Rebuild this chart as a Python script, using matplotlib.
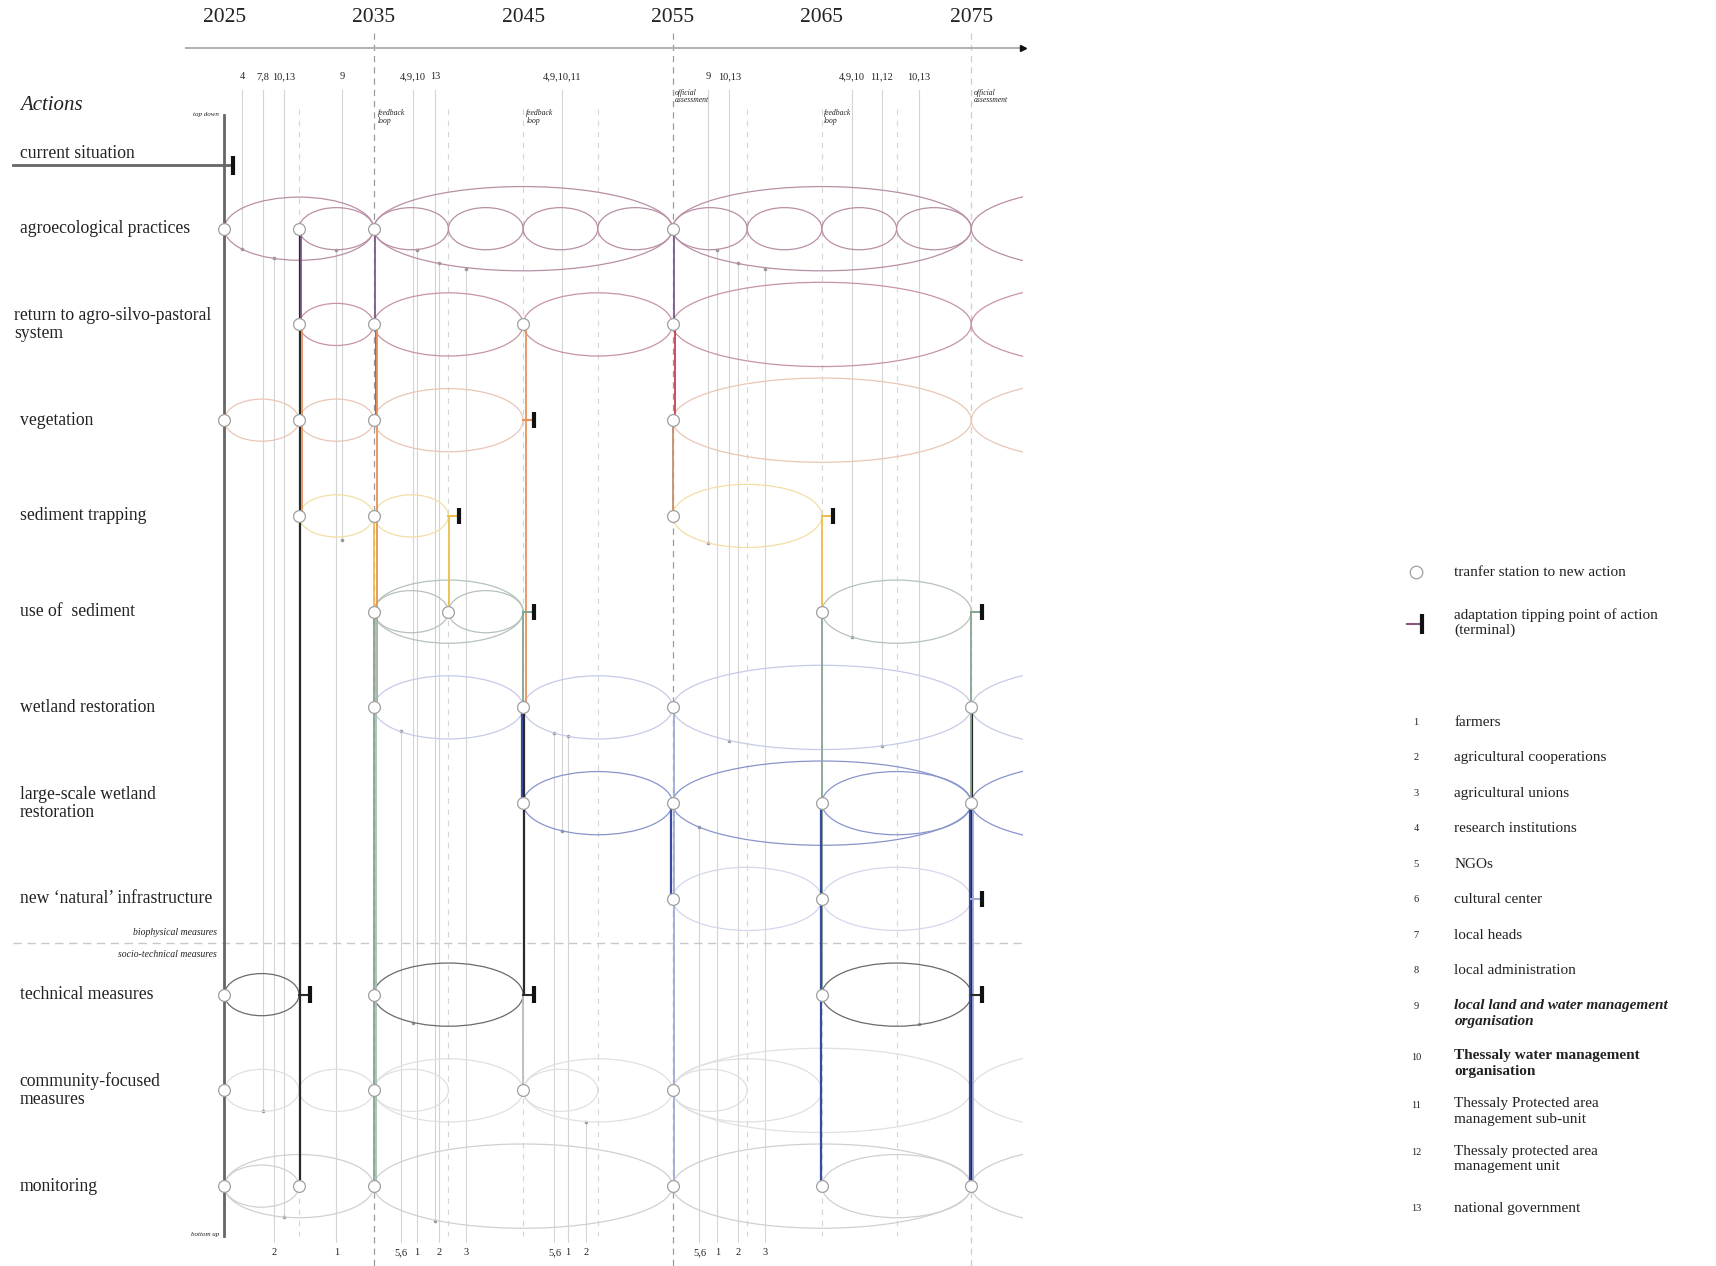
import matplotlib
matplotlib.use('Agg')
import matplotlib.pyplot as plt
from matplotlib.patches import Ellipse, Rectangle

plt.rcParams['font.family'] = ['Liberation Serif', 'DejaVu Serif']

# ---------------- data ----------------
years_axis = [2025, 2035, 2045, 2055, 2065, 2075]

actions = ["current situation", "agroecological practices",
           "return to agro-silvo-pastoral\nsystem", "vegetation",
           "sediment trapping", "use of  sediment", "wetland restoration",
           "large-scale wetland\nrestoration", "new \u2018natural\u2019 infrastructure",
           "technical measures", "community-focused\nmeasures", "monitoring"]

agro_spans = [(2025, 2035), (2030, 2035), (2035, 2040), (2040, 2045), (2045, 2050),
              (2050, 2055), (2035, 2055), (2055, 2060), (2060, 2065), (2065, 2070),
              (2070, 2075), (2055, 2075), (2075, 2095)]
return_spans = [(2030, 2035), (2035, 2045), (2045, 2055), (2055, 2075), (2075, 2095)]
veg_spans = [(2025, 2030), (2030, 2035), (2035, 2045), (2055, 2075), (2075, 2095)]
sedtrap_spans = [(2030, 2035), (2035, 2040), (2055, 2065)]
usesed_spans = [(2035, 2040), (2040, 2045), (2035, 2045), (2065, 2075)]
wetland_spans = [(2035, 2045), (2045, 2055), (2055, 2075), (2075, 2095)]
large_spans = [(2045, 2055), (2055, 2075), (2065, 2075), (2075, 2095)]
natinf_spans = [(2055, 2065), (2065, 2075)]
tech_spans = [(2025, 2030), (2035, 2045), (2065, 2075)]
comm_spans = [(2025, 2030), (2030, 2035), (2035, 2040), (2035, 2045), (2045, 2050),
              (2045, 2055), (2055, 2060), (2055, 2065), (2055, 2075), (2075, 2095)]
monit_spans = [(2025, 2030), (2025, 2035), (2035, 2055), (2055, 2075), (2065, 2075),
               (2075, 2095)]

agro_stations = [2025, 2030, 2035, 2055]
return_stations = [2030, 2035, 2045, 2055]
veg_stations = [2025, 2030, 2035, 2055]
sedtrap_stations = [2030, 2035, 2055]
usesed_stations = [2035, 2040, 2065]
wetland_stations = [2035, 2045, 2055, 2075]
large_stations = [2045, 2055, 2065, 2075]
natinf_stations = [2055, 2065]
tech_stations = [2025, 2035, 2065]
comm_stations = [2025, 2035, 2045, 2055]
monit_stations = [2025, 2030, 2035, 2055, 2065, 2075]

# tipping points: (year, action index, pathway)
tipping_points = [(2045, 3, "veg"), (2040, 4, "sed"), (2065, 4, "sed"),
                  (2045, 5, "use"), (2075, 5, "use"), (2075, 8, "wet"),
                  (2030, 9, "black"), (2045, 9, "black"), (2075, 9, "black")]

# transfers between actions: (year, from action, to action, pathway)
transfers = [
    (2030, 1, 11, "black"), (2030, 1, 2, "agro"), (2030, 2, 4, "veg"),
    (2035, 1, 2, "agro"), (2035, 2, 3, "return"), (2035, 2, 6, "veg"),
    (2035, 4, 5, "sed"), (2035, 5, 11, "use"), (2035, 5, 11, "use2"),
    (2040, 4, 5, "sed"),
    (2045, 2, 6, "veg"), (2045, 5, 7, "use"), (2045, 6, 7, "large"),
    (2045, 6, 9, "black"), (2045, 9, 10, "grey"),
    (2055, 1, 2, "agro"), (2055, 2, 3, "return"), (2055, 3, 4, "brown"),
    (2055, 6, 7, "wet"), (2055, 7, 8, "large"), (2055, 7, 11, "wet"),
    (2065, 4, 5, "sed"), (2065, 5, 9, "use"), (2065, 7, 11, "large"),
    (2075, 5, 6, "use"), (2075, 6, 7, "black"), (2075, 6, 7, "use"),
    (2075, 7, 11, "large"), (2075, 7, 11, "black"), (2075, 7, 11, "wet"),
]

# stakeholder involvement
top_labels = ["4", "7,8", "10,13", "9", "4,9,10", "13", "4,9,10,11", "9", "10,13",
              "4,9,10", "11,12", "10,13"]
top_years = [2026.2, 2027.6, 2029.0, 2032.9, 2037.6, 2039.1, 2047.6, 2057.4, 2058.8,
             2067.0, 2069.0, 2071.5]
top_reach = [1.21, 10.22, 11.32, 4.25, 9.3, 11.36, 7.29, 4.28, 6.35, 5.26, 6.4, 9.31]
bottom_labels = ["2", "1", "5,6", "1", "2", "3", "5,6", "1", "2", "5,6", "1", "2", "3"]
bottom_years = [2028.3, 2032.5, 2036.8, 2037.9, 2039.4, 2041.2, 2047.1, 2048.0, 2049.2,
                2056.8, 2058.0, 2059.4, 2061.2]
bottom_reach = [1.31, 1.22, 6.25, 1.22, 1.36, 1.42, 6.27, 6.3, 10.33, 7.25, 1.22, 1.36, 1.42]

stakeholders = ["farmers", "agricultural cooperations", "agricultural unions",
                "research institutions", "NGOs", "cultural center", "local heads",
                "local administration", "local land and water management\norganisation",
                "Thessaly water management\norganisation",
                "Thessaly Protected area\nmanagement sub-unit",
                "Thessaly protected area\nmanagement unit", "national government"]

# ---------------- layout helpers (reference pixel -> data) ----------------
def X(xs):
    return 2025 + (xs - 205) / 13.65

def Y(ys):
    return 1 + (ys - 209) / 87.5

row_y = [Y(151)] + list(range(1, 12))

ell_col = ["#777777", "#b98fa6", "#c794a3", "#e9c6b5", "#f2dfa6", "#b5c2bb", "#c6cbe6",
           "#8894cc", "#d3d7ec", "#6a6a6a", "#e0e0e0", "#d0d0d0"]
path_col = {"agro": "#7a5a8c", "return": "#c9404c", "veg": "#e8925a", "brown": "#c8906a",
            "sed": "#eebf4a", "use": "#86a48e", "use2": "#aabdb2", "wet": "#9fabdb",
            "large": "#3a4aa0", "black": "#2a2a2a", "grey": "#bbbbbb"}
path_off = {"agro": 0.1, "return": 0.14, "veg": 0.2, "brown": 0.0, "sed": 0.04,
            "use": 0.0, "use2": 0.12, "wet": 0.12, "large": -0.08, "black": 0.04, "grey": 0.0}
semi = {5: 0.22, 10: 0.33, 20: 0.44}

all_spans = [None, agro_spans, return_spans, veg_spans, sedtrap_spans, usesed_spans,
             wetland_spans, large_spans, natinf_spans, tech_spans, comm_spans, monit_spans]
all_stations = [None, agro_stations, return_stations, veg_stations, sedtrap_stations,
                usesed_stations, wetland_stations, large_stations, natinf_stations,
                tech_stations, comm_stations, monit_stations]

fig = plt.figure(figsize=(17.16, 12.66), dpi=100)
ax = fig.add_axes([0, 0, 1, 1])
ax.set_xlim(X(0), X(1568))
ax.set_ylim(Y(1157), Y(0))
ax.axis('off')

txt = "#222222"

# time axis
for yr in years_axis:
    ax.text(yr, Y(16), str(yr), fontsize=15.5, ha='center', va='center', color=txt)
ax.plot([X(170), X(933)], [Y(44), Y(44)], color='#b0b0b0', lw=1.4, zorder=2)
ax.plot([X(935)], [Y(44)], marker='>', color='#111111', ms=4, zorder=3)

# dashed milestone lines
for yr in range(2030, 2080, 5):
    if yr in (2035, 2055):
        ax.plot([yr, yr], [Y(30), Y(1157)], color='#9a9a9a', lw=0.9, dashes=(5, 4), zorder=0.6)
    elif yr == 2075:
        ax.plot([yr, yr], [Y(30), Y(1157)], color='#cfcfcf', lw=0.9, dashes=(5, 4), zorder=0.6)
    else:
        ax.plot([yr, yr], [Y(100), Y(1130)], color='#d6d6d6', lw=0.8, dashes=(5, 5), zorder=0.6)

# small italic notes
for xs in (345, 481, 753):
    ax.text(X(xs), Y(100), "feedback\nloop", fontsize=5.5, style='italic', ha='left',
            va='top', linespacing=0.95, color=txt)
for xs in (617, 890):
    ax.text(X(xs), Y(81), "official\nassessment", fontsize=5.5, style='italic', ha='left',
            va='top', linespacing=0.95, color=txt)
ax.text(X(200), Y(105), "top down", fontsize=5, style='italic', ha='right', va='center', color=txt)
ax.text(X(200), Y(1128), "bottom up", fontsize=5, style='italic', ha='right', va='center', color=txt)

# stakeholder lines
for lab, yr, r in zip(top_labels, top_years, top_reach):
    ax.plot([yr, yr], [Y(82), r], color='#d4d4d4', lw=0.8, zorder=0.5)
    ax.plot([yr], [r], marker='o', ms=1.6, color='#999999', zorder=0.7)
    ax.text(yr, Y(70), lab, fontsize=7.5, ha='center', va='center', color=txt)
for lab, yr, r in zip(bottom_labels, bottom_years, bottom_reach):
    ax.plot([yr, yr], [r, Y(1135)], color='#d4d4d4', lw=0.8, zorder=0.5)
    ax.plot([yr], [r], marker='o', ms=1.6, color='#999999', zorder=0.7)
    ax.text(yr, Y(1145), lab, fontsize=7.5, ha='center', va='center', color=txt)

# action labels
ax.text(X(18), Y(96), "Actions", fontsize=15, style='italic', ha='left', va='center', color=txt)
for i, name in enumerate(actions):
    xs = 13 if i == 2 else 18
    yy = Y(140) if i == 0 else row_y[i]
    ax.text(X(xs), yy, name, fontsize=12.7, ha='left', va='center', linespacing=1.08, color=txt)

# biophysical / socio-technical separator
ax.plot([X(12), X(935)], [Y(862), Y(862)], color='#c8c8c8', lw=1, dashes=(6, 4), zorder=0.6)
ax.text(X(198), Y(852), "biophysical measures", fontsize=7, style='italic', ha='right',
        va='center', color=txt)
ax.text(X(198), Y(872), "socio-technical measures", fontsize=7, style='italic', ha='right',
        va='center', color=txt)

# current situation + main top-down/bottom-up line
ax.plot([X(12), X(212)], [row_y[0], row_y[0]], color='#666666', lw=2, zorder=3)
ax.plot([X(213), X(213)], [row_y[0] - 0.1, row_y[0] + 0.1], color='#111111', lw=3, zorder=4,
        solid_capstyle='butt')
ax.plot([2025, 2025], [Y(105), Y(1130)], color='#666666', lw=2, zorder=2.5)

# ellipses (clipped at right)
clip = Rectangle((X(0), Y(0)), X(935) - X(0), Y(1157) - Y(0), transform=ax.transData)
for i in range(1, 12):
    for s, e in all_spans[i]:
        el = Ellipse(((s + e) / 2, row_y[i]), e - s, 2 * semi[e - s], fill=False,
                     edgecolor=ell_col[i], lw=0.9, zorder=1)
        ax.add_patch(el)
        el.set_clip_path(clip)

# transfers
for yr, r0, r1, p in transfers:
    ax.plot([yr + path_off[p], yr + path_off[p]], [row_y[r0], row_y[r1]],
            color=path_col[p], lw=1.6 if p in ("black", "large") else 1.3, zorder=3,
            solid_capstyle='butt')

# tipping points
for yr, r, p in tipping_points:
    ax.plot([yr, yr + 0.62], [row_y[r], row_y[r]], color=path_col[p], lw=1.5, zorder=4)
    ax.plot([yr + 0.72, yr + 0.72], [row_y[r] - 0.085, row_y[r] + 0.085], color='#111111',
            lw=3, zorder=4, solid_capstyle='butt')

# stations
for i in range(1, 12):
    ax.plot(all_stations[i], [row_y[i]] * len(all_stations[i]), 'o', ms=8.5,
            markerfacecolor='white', markeredgecolor='#a0a0a0', markeredgewidth=0.9, zorder=6)

# legend
ax.plot([X(1294)], [Y(523)], 'o', ms=9, markerfacecolor='white', markeredgecolor='#a0a0a0',
        markeredgewidth=0.9)
ax.text(X(1329), Y(523), "tranfer station to new action", fontsize=11, ha='left',
        va='center', color=txt)
ax.plot([X(1286), X(1297)], [Y(570), Y(570)], color='#8a5a7a', lw=1.5)
ax.plot([X(1299), X(1299)], [Y(561), Y(579)], color='#111111', lw=3, solid_capstyle='butt')
ax.text(X(1329), Y(556), "adaptation tipping point of action\n(terminal)", fontsize=11,
        ha='left', va='top', linespacing=1.15, color=txt)

leg_y = [660, 692, 725, 757, 790, 822, 855, 887, 920, 966, 1010, 1053, 1104]
for k, (name, ys) in enumerate(zip(stakeholders, leg_y)):
    ax.text(X(1294), Y(ys), str(k + 1), fontsize=7.5, ha='center', va='center', color=txt)
    kw = {}
    if k == 8:
        kw = dict(weight='bold', style='italic')
    elif k == 9:
        kw = dict(weight='bold')
    if "\n" in name:
        ax.text(X(1329), Y(ys - 7), name, fontsize=11, ha='left', va='top',
                linespacing=1.25, color=txt, **kw)
    else:
        ax.text(X(1329), Y(ys), name, fontsize=11, ha='left', va='center', color=txt, **kw)

fig.savefig("out.png", dpi=100, facecolor='white')
